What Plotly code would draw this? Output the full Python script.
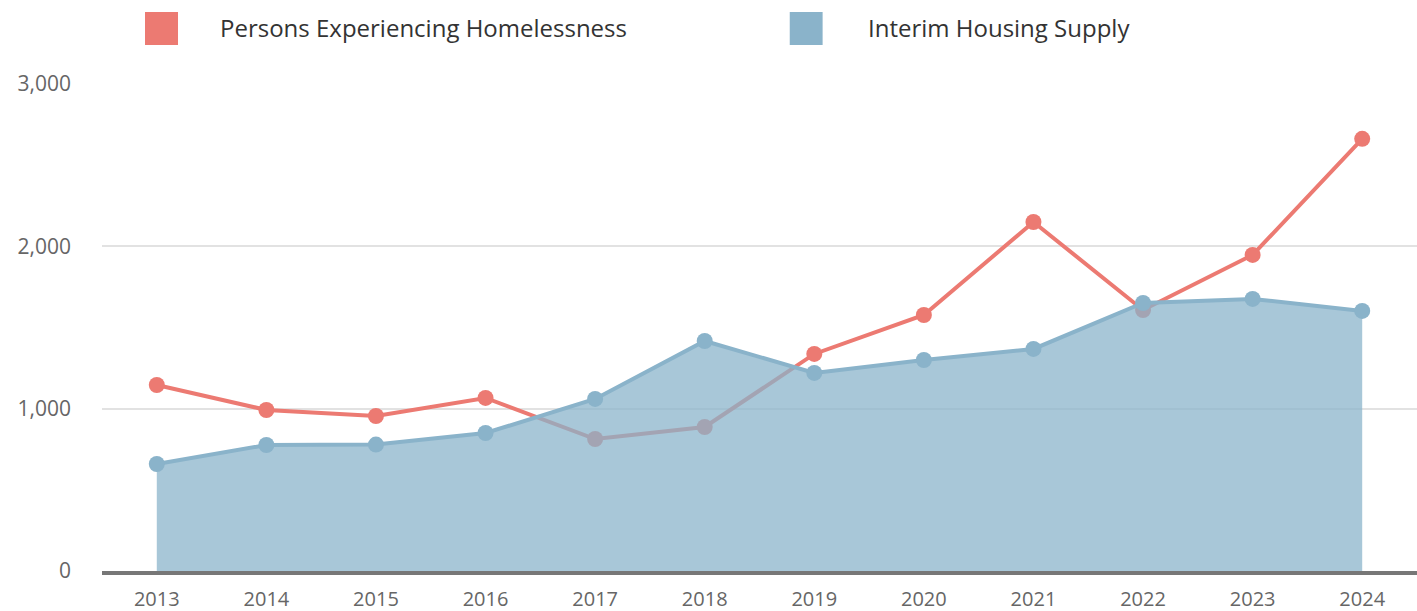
import plotly.graph_objects as go

years = ["2013", "2014", "2015", "2016", "2017", "2018", "2019", "2020", "2021", "2022", "2023", "2024"]
homeless = [1146, 992, 955, 1066, 813, 887, 1337, 1577, 2150, 1608, 1947, 2662]
interim = [659, 776, 779, 850, 1060, 1417, 1220, 1300, 1368, 1651, 1676, 1602]
series_names = ["Persons Experiencing Homelessness", "Interim Housing Supply"]
y_ticks = [0, 1000, 2000, 3000]

RED = "#EC7A72"
BLUE = "#8AB3CA"
FONT = "Open Sans"

fig = go.Figure()
fig.add_trace(go.Scatter(
    x=years, y=homeless, mode="lines+markers", name=series_names[0],
    line=dict(color=RED, width=4), marker=dict(color=RED, size=16),
    cliponaxis=False,
))
fig.add_trace(go.Scatter(
    x=years, y=interim, mode="lines+markers", name=series_names[1],
    line=dict(color=BLUE, width=4), marker=dict(color=BLUE, size=16),
    fill="tozeroy", fillcolor="rgba(138,179,202,0.74)",
    cliponaxis=False,
))

# custom legend (large square swatches)
legend_items = [(series_names[0], RED, 0.0327, 0.0578, 0.0882),
                (series_names[1], BLUE, 0.523, 0.548, 0.581)]
shapes = []
annotations = []
for name, col, x0, x1, xt in legend_items:
    shapes.append(dict(type="rect", xref="paper", yref="paper", x0=x0, x1=x1,
                       y0=1.080, y1=1.148, fillcolor=col, line=dict(width=0)))
    annotations.append(dict(xref="paper", yref="paper", x=xt, y=1.115, text=name,
                            showarrow=False, xanchor="left", yanchor="middle",
                            font=dict(family=FONT, size=24, color="#333333")))

fig.update_layout(
    width=1417, height=611,
    margin=dict(l=102, r=0, t=84, b=40),
    paper_bgcolor="white", plot_bgcolor="white",
    showlegend=False,
    shapes=shapes, annotations=annotations,
    font=dict(family=FONT, color="#666666"),
    xaxis=dict(
        type="category", range=[-0.5, 11.5],
        showgrid=False, showline=True, linecolor="#777777", linewidth=4,
        ticks="", tickfont=dict(size=20, color="#666666"),
        ticklabelstandoff=7,
    ),
    yaxis=dict(
        range=[0, 3000], tickvals=y_ticks, tickformat=",",
        showgrid=True, gridcolor="#E2E2E2", gridwidth=1.5,
        zeroline=False, showline=False, ticks="",
        tickfont=dict(size=21, color="#666666"),
        ticklabelstandoff=30,
    ),
)

fig.write_html("out.html")
